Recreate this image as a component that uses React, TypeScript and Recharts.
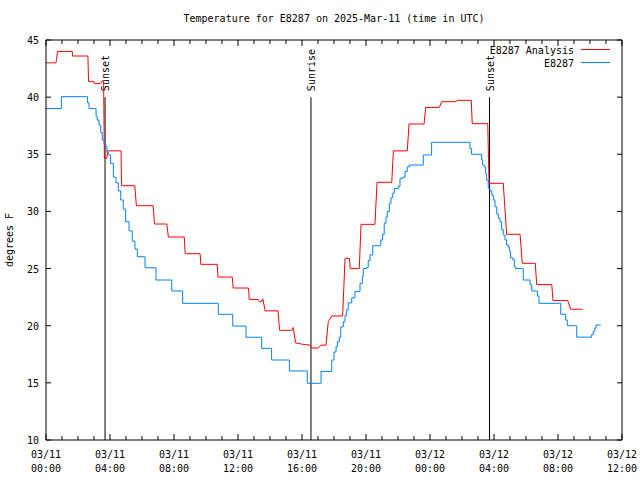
import React from 'react';
import { LineChart, Line, XAxis, YAxis, ReferenceLine, Customized } from 'recharts';

// ---------- data ----------
const analysisHours = [0, 0.62, 0.66, 0.72, 1.64, 1.66, 2.62, 2.66, 3.0, 3.02, 3.42, 3.5, 3.6, 3.65, 3.8, 3.85, 4.69, 4.72, 5.55, 5.65, 6.7, 6.78, 7.55, 7.65, 8.64, 8.7, 9.63, 9.68, 10.7, 10.75, 11.64, 11.7, 12.66, 12.7, 13.25, 13.35, 13.45, 13.55, 13.7, 14.5, 14.6, 15.35, 15.45, 15.6, 15.95, 16.5, 16.6, 17.0, 17.2, 17.5, 17.64, 17.86, 18.54, 18.69, 18.96, 19.02, 19.58, 19.69, 20.56, 20.69, 21.61, 21.71, 22.58, 22.69, 23.63, 23.73, 24.58, 24.73, 25.63, 25.7, 26.58, 26.64, 27.61, 27.69, 28.58, 28.79, 29.63, 29.77, 30.58, 30.67, 31.61, 31.69, 32.61, 32.79, 33.54];
const analysisTemps = [43.0, 43.0, 43.3, 44.0, 44.0, 43.6, 43.6, 41.35, 41.35, 41.2, 41.2, 41.4, 41.4, 34.65, 34.65, 35.3, 35.3, 32.25, 32.25, 30.5, 30.5, 28.9, 28.9, 27.76, 27.76, 26.3, 26.3, 25.37, 25.37, 24.26, 24.26, 23.3, 23.3, 22.3, 22.3, 22.1, 22.1, 22.35, 21.3, 21.3, 19.6, 19.6, 19.85, 18.5, 18.4, 18.3, 18.05, 18.05, 18.3, 18.3, 20.35, 20.85, 20.85, 25.9, 25.9, 25.0, 25.0, 28.87, 28.87, 32.55, 32.55, 35.3, 35.3, 37.65, 37.65, 39.1, 39.1, 39.6, 39.6, 39.72, 39.72, 37.68, 37.68, 32.46, 32.46, 28.0, 28.0, 25.46, 25.46, 23.6, 23.6, 22.2, 22.2, 21.44, 21.44];

const stationHours = [0, 0.875, 0.96, 2.54, 2.6, 2.69, 3.04, 3.13, 3.2, 3.31, 3.42, 3.52, 3.63, 3.73, 3.81, 3.89, 4.04, 4.21, 4.375, 4.52, 4.67, 4.83, 4.98, 5.19, 5.39, 5.56, 5.71, 6.14, 6.19, 6.77, 6.875, 7.75, 7.86, 8.48, 8.54, 10.67, 10.77, 11.5, 11.67, 12.39, 12.5, 13.33, 13.48, 14.04, 14.1, 15.08, 15.21, 16.25, 16.33, 17.08, 17.19, 17.75, 17.86, 18.0, 18.125, 18.21, 18.33, 18.42, 18.58, 18.69, 18.79, 18.89, 19.11, 19.31, 19.625, 19.77, 19.83, 20.04, 20.14, 20.25, 20.42, 20.83, 20.92, 21.04, 21.14, 21.25, 21.33, 21.46, 21.56, 21.67, 21.77, 22.02, 22.125, 22.29, 22.44, 22.58, 22.71, 23.48, 23.58, 23.96, 24.1, 26.39, 26.5, 26.6, 27.125, 27.23, 27.29, 27.39, 27.48, 27.54, 27.64, 27.75, 27.86, 27.96, 28.06, 28.17, 28.27, 28.375, 28.48, 28.58, 28.69, 28.79, 28.89, 28.96, 29.04, 29.17, 29.27, 29.36, 29.77, 29.83, 30.14, 30.25, 30.36, 30.625, 30.71, 30.81, 32.08, 32.17, 32.39, 32.48, 32.58, 33.1, 33.17, 34.0, 34.1, 34.2, 34.3, 34.375, 34.67];
const stationTemps = [39.0, 39.0, 40.04, 40.04, 39.5, 39.0, 39.0, 38.3, 38.0, 37.56, 36.9, 36.25, 35.9, 35.67, 35.2, 34.94, 34.2, 33.0, 32.5, 31.8, 31.0, 30.2, 29.1, 28.3, 27.4, 26.7, 26.04, 26.04, 25.07, 25.07, 24.0, 24.0, 23.04, 23.04, 21.96, 21.96, 21.0, 21.0, 19.97, 19.97, 18.99, 18.99, 18.02, 18.02, 17.0, 17.0, 16.04, 16.04, 14.96, 14.96, 16.0, 16.0, 17.0, 17.7, 18.16, 18.6, 19.0, 19.9, 20.35, 20.9, 21.4, 22.0, 22.45, 23.0, 23.7, 24.3, 25.0, 25.1, 25.7, 26.2, 27.0, 27.0, 27.5, 28.0, 28.96, 29.5, 30.0, 30.7, 31.2, 31.6, 32.0, 32.2, 32.9, 33.0, 33.5, 33.9, 34.06, 34.06, 34.94, 34.94, 36.05, 36.05, 35.5, 35.0, 35.0, 34.5, 34.06, 33.9, 33.3, 32.75, 32.0, 31.8, 31.44, 31.0, 30.4, 29.8, 29.4, 29.1, 28.4, 27.94, 27.5, 27.06, 26.9, 26.5, 25.95, 25.8, 25.15, 25.0, 25.0, 24.0, 24.0, 23.6, 23.04, 23.04, 22.6, 21.96, 21.96, 21.0, 21.0, 20.5, 20.0, 20.0, 19.0, 19.0, 19.2, 19.5, 19.8, 20.06, 20.06];

const hourTicks = [0, 1, 2, 3, 4, 5, 6, 7, 8, 9, 10, 11, 12, 13, 14, 15, 16, 17, 18, 19, 20, 21, 22, 23, 24, 25, 26, 27, 28, 29, 30, 31, 32, 33, 34, 35, 36];
const tickDates = ['03/11', '03/11', '03/11', '03/11', '03/11', '03/11', '03/12', '03/12', '03/12', '03/12'];
const tickTimes = ['00:00', '04:00', '08:00', '12:00', '16:00', '20:00', '00:00', '04:00', '08:00', '12:00'];
const tempTicks = [10, 15, 20, 25, 30, 35, 40, 45];

const sunEventHours = [3.69, 16.56, 27.72];
const sunEventLabels = ['Sunset', 'Sunrise', 'Sunset'];
const sunLineTop = 40;

const seriesNames = ['E8287 Analysis', 'E8287'];
const titleText = 'Temperature for E8287 on 2025-Mar-11 (time in UTC)';
const yAxisTitle = 'degrees F';

// ---------- style / layout ----------
const seriesColors = ['#ff0000', '#0080ff'];
const FONT = '"DejaVu Sans Mono", "Liberation Mono", monospace';
const FS = 10;
const PLOT = { left: 46, right: 622, top: 40, bottom: 440 };

const analysisData = analysisHours.map((h, i) => ({ h, t: analysisTemps[i] }));
const stationData = stationHours.map((h, i) => ({ h, t: stationTemps[i] }));

function BottomTick(props: any) {
  const { x, payload } = props;
  const v = payload.value;
  const major = v % 4 === 0;
  const idx = v / 4;
  return (
    <g>
      <line x1={x} x2={x} y1={PLOT.bottom} y2={PLOT.bottom - (major ? 6 : 4)} stroke="#000" strokeWidth={1} />
      {major && (
        <text x={x} y={PLOT.bottom + 18} textAnchor="middle" fontFamily={FONT} fontSize={FS} fill="#000">
          <tspan x={x}>{tickDates[idx]}</tspan>
          <tspan x={x} dy={14}>{tickTimes[idx]}</tspan>
        </text>
      )}
    </g>
  );
}

function TopTick(props: any) {
  const { x, payload } = props;
  const major = payload.value % 4 === 0;
  return <line x1={x} x2={x} y1={PLOT.top} y2={PLOT.top + (major ? 6 : 4)} stroke="#000" strokeWidth={1} />;
}

function LeftTick(props: any) {
  const { y, payload } = props;
  return (
    <g>
      <line x1={PLOT.left} x2={PLOT.left + 5} y1={y} y2={y} stroke="#000" strokeWidth={1} />
      <text x={PLOT.left - 7} y={y + 4} textAnchor="end" fontFamily={FONT} fontSize={FS} fill="#000">
        {payload.value}
      </text>
    </g>
  );
}

function RightTick(props: any) {
  const { y } = props;
  return <line x1={PLOT.right} x2={PLOT.right - 5} y1={y} y2={y} stroke="#000" strokeWidth={1} />;
}

function SunLabel(props: any) {
  const { viewBox, text } = props;
  const x = viewBox && typeof viewBox.x === 'number' ? viewBox.x : 0;
  const y = viewBox && typeof viewBox.y === 'number' ? viewBox.y : 0;
  return (
    <text
      transform={`translate(${x + 4},${y - 6}) rotate(-90)`}
      textAnchor="start"
      fontFamily={FONT}
      fontSize={FS}
      fill="#000"
    >
      {text}
    </text>
  );
}

function Decorations() {
  return (
    <g>
      <text x={334} y={22} textAnchor="middle" fontFamily={FONT} fontSize={FS} fill="#000">
        {titleText}
      </text>
      <text
        transform={`translate(13,240) rotate(-90)`}
        textAnchor="middle"
        fontFamily={FONT}
        fontSize={FS}
        fill="#000"
      >
        {yAxisTitle}
      </text>
      {seriesNames.map((n, i) => (
        <g key={n}>
          <text x={574} y={53.5 + i * 13} textAnchor="end" fontFamily={FONT} fontSize={FS} fill="#000">
            {n}
          </text>
          <line x1={581} x2={610} y1={49.5 + i * 13} y2={49.5 + i * 13} stroke={seriesColors[i]} strokeWidth={1} />
        </g>
      ))}
    </g>
  );
}

export default function App() {
  return (
    <div style={{ position: 'absolute', left: 0, top: 0, width: 640, height: 480, background: '#fff' }}>
      <LineChart width={640} height={480} margin={{ top: 0, right: 0, bottom: 0, left: 0 }}>
        <XAxis
          xAxisId="b"
          dataKey="h"
          type="number"
          domain={[0, 36]}
          ticks={hourTicks}
          interval={0}
          height={480 - PLOT.bottom}
          tickLine={false}
          axisLine={{ stroke: '#000', strokeWidth: 1 }}
          tick={<BottomTick />}
          allowDataOverflow
        />
        <XAxis
          xAxisId="t"
          orientation="top"
          dataKey="h"
          type="number"
          domain={[0, 36]}
          ticks={hourTicks}
          interval={0}
          height={PLOT.top}
          tickLine={false}
          axisLine={{ stroke: '#000', strokeWidth: 1 }}
          tick={<TopTick />}
          allowDataOverflow
        />
        <YAxis
          yAxisId="l"
          type="number"
          domain={[10, 45]}
          ticks={tempTicks}
          interval={0}
          width={PLOT.left}
          tickLine={false}
          axisLine={{ stroke: '#000', strokeWidth: 1 }}
          tick={<LeftTick />}
          allowDataOverflow
        />
        <YAxis
          yAxisId="r"
          orientation="right"
          type="number"
          domain={[10, 45]}
          ticks={tempTicks}
          interval={0}
          width={640 - PLOT.right}
          tickLine={false}
          axisLine={{ stroke: '#000', strokeWidth: 1 }}
          tick={<RightTick />}
          allowDataOverflow
        />
        {sunEventHours.map((h, i) => (
          <ReferenceLine
            key={'sun' + i}
            xAxisId="b"
            yAxisId="l"
            segment={[{ x: h, y: 10 }, { x: h, y: sunLineTop }]}
            stroke="#000"
            strokeWidth={1}
            ifOverflow="visible"
            label={<SunLabel text={sunEventLabels[i]} />}
          />
        ))}
        <Line
          xAxisId="b"
          yAxisId="l"
          data={analysisData}
          dataKey="t"
          name={seriesNames[0]}
          type="linear"
          stroke={seriesColors[0]}
          strokeWidth={1}
          dot={false}
          activeDot={false}
          isAnimationActive={false}
        />
        <Line
          xAxisId="b"
          yAxisId="l"
          data={stationData}
          dataKey="t"
          name={seriesNames[1]}
          type="stepAfter"
          stroke={seriesColors[1]}
          strokeWidth={1}
          dot={false}
          activeDot={false}
          isAnimationActive={false}
        />
        <Customized component={Decorations} />
      </LineChart>
    </div>
  );
}
